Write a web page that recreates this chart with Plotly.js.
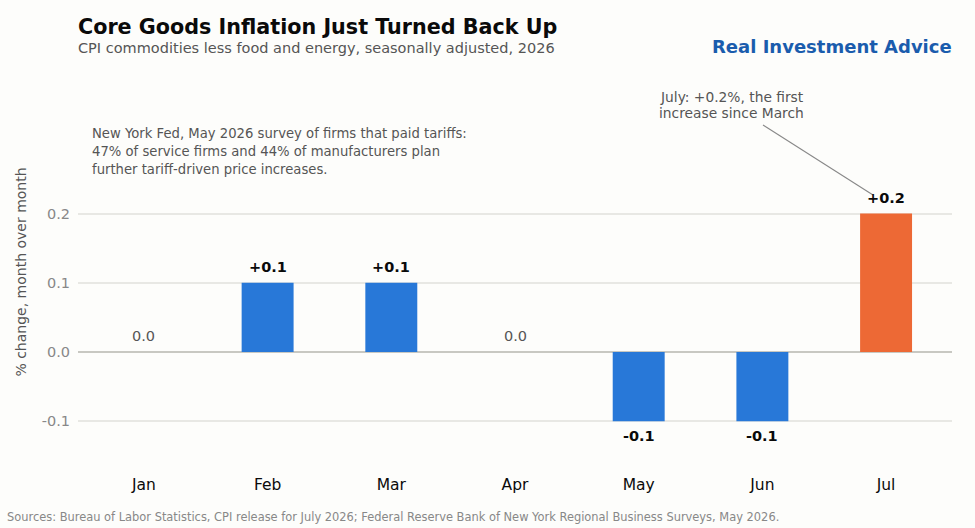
<!DOCTYPE html>
<html><head><meta charset="utf-8">
<script src="https://cdn.plot.ly/plotly-3.0.1.min.js"></script>
<style>html,body{margin:0;padding:0;background:#FDFDFB}</style></head>
<body><div id="chart" style="width:975px;height:528px"></div>
<script>
const months = ["Jan","Feb","Mar","Apr","May","Jun","Jul"];
const values = [0.0,0.1,0.1,0.0,-0.1,-0.1,0.2];
const valueLabels = ["0.0","+0.1","+0.1","0.0","-0.1","-0.1","+0.2"];
const barColors = ["#2878D8","#2878D8","#2878D8","#2878D8","#2878D8","#2878D8","#ED6935"];
const yTicks = [-0.1,0,0.1,0.2];
const yTickLabels = ["-0.1","0.0","0.1","0.2"];
const noteLines = ["New York Fed, May 2026 survey of firms that paid tariffs:","47% of service firms and 44% of manufacturers plan","further tariff-driven price increases."];
const calloutLines = ["July: +0.2%, the first","increase since March"];
const W=975,H=528,L=78,R=952,T=74,B=470;
const FF='"DejaVu Sans", sans-serif';
function pageText(text,x,y,size,color,bold,xanchor){
  return {text:bold?'<b>'+text+'</b>':text,xref:'paper',yref:'paper',x:(x-L)/(R-L),y:(B-y)/(B-T),
    xanchor:xanchor||'left',yanchor:'middle',showarrow:false,align:'left',borderpad:0,borderwidth:0,
    font:{family:FF,size:size,color:color}};
}
const barLabels = months.map((m,i)=>{
  const v=values[i];
  return {x:m,y:v,xref:'x',yref:'y',text:v===0?valueLabels[i]:'<b>'+valueLabels[i]+'</b>',showarrow:false,
    yanchor:v<0?'top':'bottom',yshift:v<0?-5:6,
    font:{family:FF,size:14.5,color:v===0?'#555555':'#0A0A0A'}};
});
const annotations = barLabels.concat([
  pageText('Core Goods Inflation Just Turned Back Up',78,27,20.7,'#0A0A0A',true),
  pageText('CPI commodities less food and energy, seasonally adjusted, 2026',78,48,14.5,'#555555',false),
  pageText('Real Investment Advice',952,47,18,'#1A5CAD',true,'right'),
  pageText(noteLines[0],91.5,133,13.2,'#555555',false),
  pageText(noteLines[1],91.5,151,13.2,'#555555',false),
  pageText(noteLines[2],91.5,169,13.2,'#555555',false),
  pageText(calloutLines[0],731.5,97,13.8,'#555555',false,'center'),
  pageText(calloutLines[1],731.5,113,13.8,'#555555',false,'center'),
  pageText('Sources: Bureau of Labor Statistics, CPI release for July 2026; Federal Reserve Bank of New York Regional Business Surveys, May 2026.',7,517,11.43,'#888888',false)
]);
annotations[9].yshift=1;
const data=[{type:'bar',x:months,y:values,width:0.42,marker:{color:barColors,line:{width:0}},hoverinfo:'x+y'}];
const layout={
  width:W,height:H,paper_bgcolor:'#FDFDFB',plot_bgcolor:'#FDFDFB',showlegend:false,bargap:0.58,
  margin:{l:L,r:W-R,t:T,b:H-B,pad:0},font:{family:FF},
  xaxis:{type:'category',categoryorder:'array',categoryarray:months,range:[-0.533,6.533],showgrid:false,zeroline:false,showline:false,ticks:'',
    tickfont:{family:FF,size:15.5,color:'#0A0A0A'},automargin:false,ticklabelstandoff:3},
  yaxis:{range:[-0.1705,0.4017],tickmode:'array',tickvals:yTicks,ticktext:yTickLabels,showgrid:true,gridcolor:'#E8E8E4',gridwidth:1.5,
    zeroline:true,zerolinecolor:'#C8C8C2',zerolinewidth:1.5,showline:false,ticks:'',ticklabelstandoff:7,
    tickfont:{family:FF,size:14.5,color:'#888888'},automargin:false,
    title:{text:'% change, month over month',font:{family:FF,size:14,color:'#555555'},standoff:11}},
  annotations:annotations,
  shapes:[{type:'line',xref:'paper',yref:'paper',layer:'above',
    x0:(763-L)/(R-L),y0:(B-125)/(B-T),x1:(873-L)/(R-L),y1:(B-195)/(B-T),line:{color:'#888888',width:1.1}}]
};
Plotly.newPlot('chart',data,layout,{displayModeBar:false,responsive:false});
</script></body></html>
